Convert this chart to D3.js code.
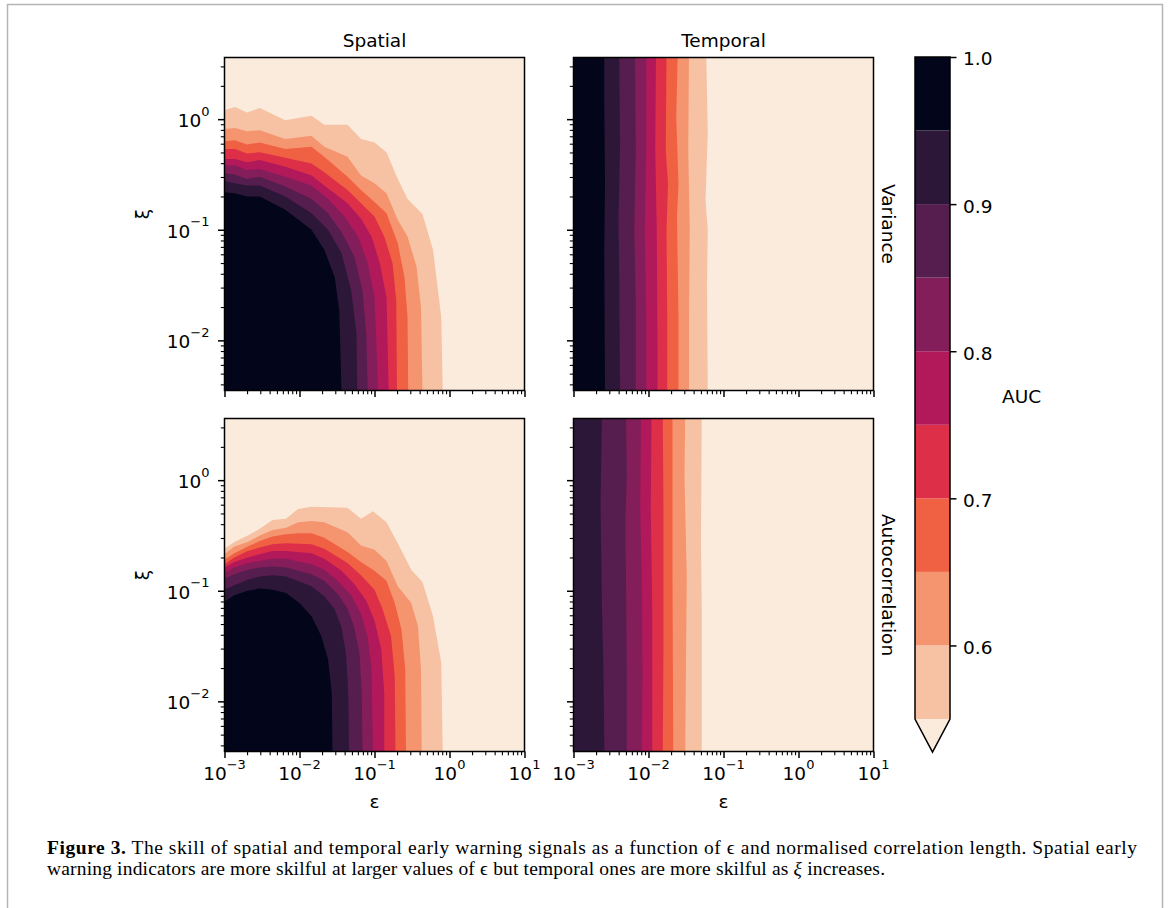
<!DOCTYPE html>
<html>
<head>
<meta charset="utf-8">
<script src="https://cdn.jsdelivr.net/npm/d3@7"></script>
<style>
  body { margin: 0; background: #fff; }
</style>
</head>
<body>
<svg id="fig" width="1168" height="908" font-family='"DejaVu Sans", sans-serif'></svg>
<script>
// AUC contour levels (lower edge of each filled band) and their colours
const levels = [0.55, 0.6, 0.65, 0.7, 0.75, 0.8, 0.85, 0.9, 0.95];
const levelMax = 1.0;
const bandColors = ['#f6c2a3', '#f59570', '#f06043', '#dd2f48', '#b1195b', '#831e5a', '#561d4f', '#2c1739', '#03051a'];
const belowColor = '#faebdd';   // extend='min' colour (AUC < 0.55)
const cbarTicks = [0.6, 0.7, 0.8, 0.9, 1.0];

const colTitles = ['Spatial', 'Temporal'];
const rowTitles = ['Variance', 'Autocorrelation'];
const epsDomain = [1e-3, 1e1];
const xiDomain = [0.00352, 3.61];
const epsTicks = [1e-3, 1e-2, 1e-1, 1e0, 1e1];
const xiTicks = [1e-2, 1e-1, 1e0];

// edge of the region AUC >= level, one polyline per level, points as [log10 eps, log10 xi]
const spatialVariance = [
  [[-3.00,0.08],[-2.86,0.11],[-2.70,0.06],[-2.53,0.10],[-2.19,-0.01],[-1.84,0.03],[-1.67,-0.05],[-1.36,-0.05],[-1.18,-0.18],[-1.00,-0.21],[-0.84,-0.30],[-0.69,-0.54],[-0.56,-0.72],[-0.36,-0.86],[-0.22,-1.18],[-0.11,-1.79],[-0.09,-2.46]],
  [[-3.00,-0.09],[-2.86,-0.08],[-2.70,-0.11],[-2.53,-0.10],[-2.19,-0.18],[-1.84,-0.15],[-1.67,-0.25],[-1.36,-0.34],[-1.18,-0.51],[-1.00,-0.58],[-0.84,-0.67],[-0.69,-0.91],[-0.56,-1.06],[-0.44,-1.33],[-0.38,-1.70],[-0.36,-2.46]],
  [[-3.00,-0.20],[-2.86,-0.19],[-2.70,-0.23],[-2.53,-0.21],[-2.19,-0.27],[-1.84,-0.25],[-1.67,-0.34],[-1.36,-0.52],[-1.18,-0.64],[-1.00,-0.75],[-0.84,-0.85],[-0.69,-1.12],[-0.60,-1.43],[-0.56,-1.79],[-0.55,-2.46]],
  [[-3.00,-0.27],[-2.86,-0.27],[-2.70,-0.31],[-2.53,-0.30],[-2.19,-0.35],[-1.84,-0.40],[-1.67,-0.48],[-1.36,-0.64],[-1.18,-0.76],[-1.00,-0.88],[-0.87,-1.06],[-0.76,-1.30],[-0.71,-1.64],[-0.70,-2.46]],
  [[-3.00,-0.36],[-2.86,-0.36],[-2.70,-0.39],[-2.53,-0.37],[-2.19,-0.43],[-1.84,-0.51],[-1.67,-0.60],[-1.36,-0.76],[-1.18,-0.90],[-1.04,-1.06],[-0.93,-1.30],[-0.84,-1.61],[-0.81,-2.46]],
  [[-3.00,-0.42],[-2.86,-0.42],[-2.70,-0.46],[-2.53,-0.45],[-2.19,-0.52],[-1.84,-0.60],[-1.62,-0.72],[-1.40,-0.88],[-1.22,-1.06],[-1.09,-1.30],[-1.00,-1.61],[-0.95,-2.46]],
  [[-3.00,-0.49],[-2.86,-0.50],[-2.70,-0.54],[-2.53,-0.52],[-2.19,-0.61],[-1.84,-0.72],[-1.62,-0.85],[-1.44,-1.02],[-1.27,-1.24],[-1.16,-1.55],[-1.11,-1.94],[-1.09,-2.46]],
  [[-3.00,-0.56],[-2.86,-0.58],[-2.70,-0.60],[-2.53,-0.60],[-2.19,-0.70],[-1.84,-0.85],[-1.62,-1.00],[-1.44,-1.21],[-1.31,-1.55],[-1.24,-1.94],[-1.23,-2.46]],
  [[-3.00,-0.66],[-2.86,-0.67],[-2.70,-0.70],[-2.53,-0.70],[-2.19,-0.82],[-1.84,-1.00],[-1.67,-1.18],[-1.53,-1.43],[-1.47,-1.73],[-1.44,-2.46]]
];
const temporalVariance = [
  [[-1.23,0.60],[-1.21,-0.13],[-1.24,-0.73],[-1.21,-1.00],[-1.22,-1.49],[-1.21,-2.46]],
  [[-1.46,0.60],[-1.47,-0.28],[-1.45,-1.00],[-1.46,-1.79],[-1.46,-2.46]],
  [[-1.61,0.60],[-1.63,0.02],[-1.60,-0.58],[-1.62,-0.88],[-1.60,-1.79],[-1.60,-2.46]],
  [[-1.76,0.60],[-1.77,-0.28],[-1.74,-0.58],[-1.76,-1.00],[-1.75,-1.79],[-1.75,-2.46]],
  [[-1.90,0.60],[-1.91,-0.28],[-1.89,-1.00],[-1.88,-2.09],[-1.88,-2.46]],
  [[-2.03,0.60],[-2.03,-0.28],[-2.05,-1.00],[-2.03,-1.79],[-2.03,-2.46]],
  [[-2.18,0.60],[-2.17,-0.28],[-2.19,-1.00],[-2.17,-1.64],[-2.17,-2.46]],
  [[-2.39,0.60],[-2.38,-0.28],[-2.40,-0.88],[-2.39,-1.49],[-2.38,-2.46]],
  [[-2.59,0.60],[-2.59,0.17],[-2.58,-0.58],[-2.59,-1.18],[-2.58,-2.46]]
];
const spatialAutocorr = [
  [[-3.00,-0.62],[-2.87,-0.56],[-2.69,-0.50],[-2.53,-0.44],[-2.36,-0.36],[-2.18,-0.35],[-2.02,-0.26],[-1.84,-0.24],[-1.36,-0.25],[-1.18,-0.35],[-1.02,-0.28],[-0.84,-0.38],[-0.69,-0.57],[-0.51,-0.81],[-0.36,-0.92],[-0.22,-1.23],[-0.11,-1.65],[-0.09,-2.46]],
  [[-3.00,-0.67],[-2.87,-0.60],[-2.69,-0.56],[-2.53,-0.50],[-2.36,-0.45],[-2.18,-0.43],[-2.02,-0.38],[-1.84,-0.37],[-1.67,-0.38],[-1.36,-0.47],[-1.18,-0.59],[-1.00,-0.63],[-0.84,-0.73],[-0.69,-0.96],[-0.51,-1.11],[-0.42,-1.32],[-0.38,-1.71],[-0.37,-2.46]],
  [[-3.00,-0.72],[-2.87,-0.66],[-2.69,-0.60],[-2.53,-0.55],[-2.36,-0.51],[-2.18,-0.49],[-2.02,-0.48],[-1.84,-0.48],[-1.67,-0.52],[-1.36,-0.65],[-1.18,-0.74],[-1.00,-0.82],[-0.84,-0.91],[-0.73,-1.11],[-0.64,-1.35],[-0.59,-1.71],[-0.58,-2.46]],
  [[-3.00,-0.76],[-2.87,-0.70],[-2.69,-0.64],[-2.53,-0.61],[-2.36,-0.58],[-2.18,-0.57],[-1.84,-0.58],[-1.67,-0.62],[-1.36,-0.75],[-1.18,-0.86],[-1.00,-0.99],[-0.89,-1.17],[-0.78,-1.41],[-0.73,-1.77],[-0.72,-2.46]],
  [[-3.00,-0.79],[-2.87,-0.74],[-2.69,-0.70],[-2.53,-0.67],[-2.36,-0.64],[-2.18,-0.64],[-1.84,-0.66],[-1.67,-0.71],[-1.44,-0.82],[-1.27,-0.94],[-1.11,-1.09],[-1.00,-1.27],[-0.91,-1.53],[-0.87,-1.93],[-0.87,-2.46]],
  [[-3.00,-0.84],[-2.87,-0.79],[-2.69,-0.75],[-2.53,-0.73],[-2.36,-0.71],[-2.18,-0.71],[-1.84,-0.76],[-1.67,-0.81],[-1.49,-0.91],[-1.31,-1.04],[-1.18,-1.21],[-1.09,-1.42],[-1.04,-1.71],[-1.02,-2.46]],
  [[-3.00,-0.89],[-2.87,-0.85],[-2.69,-0.81],[-2.53,-0.79],[-2.36,-0.78],[-2.18,-0.79],[-1.84,-0.85],[-1.67,-0.91],[-1.49,-1.03],[-1.36,-1.16],[-1.27,-1.33],[-1.20,-1.57],[-1.17,-1.93],[-1.16,-2.46]],
  [[-3.00,-0.99],[-2.87,-0.95],[-2.69,-0.90],[-2.53,-0.87],[-2.36,-0.86],[-2.18,-0.87],[-1.84,-0.96],[-1.67,-1.05],[-1.53,-1.17],[-1.44,-1.33],[-1.38,-1.57],[-1.35,-1.93],[-1.34,-2.46]],
  [[-3.00,-1.10],[-2.87,-1.04],[-2.69,-1.00],[-2.53,-0.98],[-2.36,-0.99],[-2.18,-1.02],[-2.00,-1.11],[-1.84,-1.23],[-1.71,-1.41],[-1.62,-1.62],[-1.57,-1.93],[-1.56,-2.46]]
];
const temporalAutocorr = [
  [[-1.29,0.60],[-1.30,-0.57],[-1.29,-1.17],[-1.29,-2.46]],
  [[-1.51,0.60],[-1.52,0.03],[-1.49,-0.87],[-1.51,-2.46]],
  [[-1.68,0.60],[-1.68,-0.87],[-1.67,-2.46]],
  [[-1.81,0.60],[-1.80,-0.27],[-1.80,-1.47],[-1.81,-2.46]],
  [[-1.96,0.60],[-1.97,-0.27],[-1.95,-1.17],[-1.95,-2.46]],
  [[-2.10,0.60],[-2.11,-0.27],[-2.09,-0.87],[-2.08,-1.77],[-2.09,-2.46]],
  [[-2.30,0.60],[-2.29,0.03],[-2.31,-0.42],[-2.30,-0.87],[-2.29,-1.77],[-2.29,-2.46]],
  [[-2.62,0.60],[-2.64,-0.21],[-2.62,-1.17],[-2.60,-1.77],[-2.59,-2.32],[-2.59,-2.46]],
  []   // nothing reaches 0.95
];

const svg = d3.select('#fig');
const FS = 18.5;

// page frame
svg.append('rect').attr('x', 7.5).attr('y', 4.5).attr('width', 1155).attr('height', 1000)
  .attr('fill', 'none').attr('stroke', '#b5b5b5').attr('stroke-width', 1.5);

const W = 300, H = 333;
const colX = [224.5, 573.5], rowY = [57.5, 418.5];
const x = d3.scaleLog().domain(epsDomain).range([0, W]);
const y = d3.scaleLog().domain(xiDomain).range([H, 0]);
const pt = p => [x(10 ** p[0]), y(10 ** p[1])];
const logEps0 = Math.log10(epsDomain[0]);

const isPow10 = v => Math.abs(Math.log10(v) - Math.round(Math.log10(v))) < 1e-6;
const minorX = x.ticks().filter(v => !isPow10(v));
const minorY = y.ticks().filter(v => !isPow10(v));

function powText(t, v) {
  const e = Math.round(Math.log10(v));
  t.append('tspan').text('10');
  t.append('tspan').attr('dy', -11.5).attr('font-size', 13).text(e < 0 ? '\u2212' + (-e) : String(e));
}

function tickSet(sel, axis, vals, size, width) {
  sel.call(axis.tickValues(vals).tickSize(size).tickFormat(''))
    .call(a => a.select('.domain').remove())
    .selectAll('line').attr('stroke-width', width);
}

const panels = [
  {row: 0, col: 0, bounds: spatialVariance},
  {row: 0, col: 1, bounds: temporalVariance},
  {row: 1, col: 0, bounds: spatialAutocorr},
  {row: 1, col: 1, bounds: temporalAutocorr}
];

panels.forEach((p, i) => {
  const g = svg.append('g').attr('transform', `translate(${colX[p.col]},${rowY[p.row]})`);
  g.append('clipPath').attr('id', 'clip' + i).append('rect').attr('width', W).attr('height', H);
  const body = g.append('g').attr('clip-path', `url(#clip${i})`);
  body.append('rect').attr('width', W).attr('height', H).attr('fill', belowColor);

  // filled contours, painted from the lowest level inwards
  p.bounds.forEach((b, k) => {
    if (!b.length) return;
    const first = b[0], last = b[b.length - 1];
    const ring = b.concat([[logEps0, last[1]], [logEps0, first[1]]]).map(pt);
    body.append('path').attr('d', d3.line()(ring) + 'Z').attr('fill', bandColors[k]);
  });

  // ticks
  const gx = g.append('g').attr('transform', `translate(0,${H})`);
  tickSet(gx.append('g'), d3.axisBottom(x), minorX, 3.7, 1.1);
  tickSet(gx.append('g'), d3.axisBottom(x), epsTicks, 6.5, 1.5);
  const gy = g.append('g');
  tickSet(gy.append('g'), d3.axisLeft(y), minorY, 3.7, 1.1);
  tickSet(gy.append('g'), d3.axisLeft(y), xiTicks, 6.5, 1.5);

  if (p.row === 1) {
    epsTicks.forEach(v => {
      const t = g.append('text').attr('x', x(v)).attr('y', H + 28.5)
        .attr('text-anchor', 'middle').attr('font-size', FS);
      powText(t, v);
    });
    g.append('text').attr('x', W / 2).attr('y', H + 56.5).attr('text-anchor', 'middle')
      .attr('font-size', FS).text('\u03b5');
  }
  if (p.col === 0) {
    xiTicks.forEach(v => {
      const t = g.append('text').attr('x', -15).attr('y', y(v) + 8)
        .attr('text-anchor', 'end').attr('font-size', FS);
      powText(t, v);
    });
    g.append('text').attr('transform', `translate(-75.5,${H / 2 - 10}) rotate(-90)`)
      .attr('text-anchor', 'middle').attr('font-size', FS).text('\u03be');
  }
  if (p.row === 0) {
    g.append('text').attr('x', W / 2).attr('y', -11).attr('text-anchor', 'middle')
      .attr('font-size', FS).text(colTitles[p.col]);
  }
  if (p.col === 1) {
    g.append('text').attr('transform', `translate(${W + 15},${H / 2}) rotate(90)`)
      .attr('text-anchor', 'middle').attr('dominant-baseline', 'central')
      .attr('font-size', FS).text(rowTitles[p.row]);
  }

  g.append('rect').attr('width', W).attr('height', H).attr('fill', 'none')
    .attr('stroke', '#000').attr('stroke-width', 1.5);
});

// colorbar
const cbX = 915, cbW = 35;
const yc = d3.scaleLinear().domain([levels[0], levelMax]).range([719, 57]);
const ext = 0.05 * (yc(levels[0]) - yc(levelMax));
const cb = svg.append('g');
levels.forEach((lv, k) => {
  const top = k + 1 < levels.length ? levels[k + 1] : levelMax;
  cb.append('rect').attr('x', cbX).attr('width', cbW)
    .attr('y', yc(top)).attr('height', yc(lv) - yc(top)).attr('fill', bandColors[k]);
});
const y0 = yc(levels[0]);
cb.append('path').attr('d', `M${cbX},${y0}L${cbX + cbW},${y0}L${cbX + cbW / 2},${y0 + ext}Z`)
  .attr('fill', belowColor);
cb.append('path')
  .attr('d', `M${cbX},${yc(levelMax)}L${cbX + cbW},${yc(levelMax)}L${cbX + cbW},${y0}L${cbX + cbW / 2},${y0 + ext}L${cbX},${y0}Z`)
  .attr('fill', 'none').attr('stroke', '#000').attr('stroke-width', 1.5);
const cba = cb.append('g').attr('transform', `translate(${cbX + cbW},0)`)
  .call(d3.axisRight(yc).tickValues(cbarTicks).tickSize(6.5).tickPadding(6.5).tickFormat(d3.format('.1f')));
cba.select('.domain').remove();
cba.attr('font-size', FS).attr('font-family', '"DejaVu Sans", sans-serif');
cba.selectAll('line').attr('stroke-width', 1.5);
cba.selectAll('text').attr('dy', '0.43em').attr('fill', '#000');
svg.append('text').attr('x', 1002).attr('y', 403).attr('font-size', FS).text('AUC');

// caption
const cap = svg.append('g').attr('font-family', '"Liberation Serif", "DejaVu Serif", serif').attr('font-size', 19.5);
const l1 = cap.append('text').attr('x', 47).attr('y', 854).attr('textLength', 1090).attr('lengthAdjust', 'spacing');
l1.append('tspan').attr('font-weight', 'bold').text('Figure 3.');
l1.append('tspan').text(' The skill of spatial and temporal early warning signals as a function of \u03f5 and normalised correlation length. Spatial early');
const l2 = cap.append('text').attr('x', 47).attr('y', 875).attr('textLength', 838).attr('lengthAdjust', 'spacing');
l2.append('tspan').text('warning indicators are more skilful at larger values of \u03f5 but temporal ones are more skilful as ');
l2.append('tspan').attr('font-style', 'italic').text('\u03be');
l2.append('tspan').text(' increases.');
</script>
</body>
</html>
